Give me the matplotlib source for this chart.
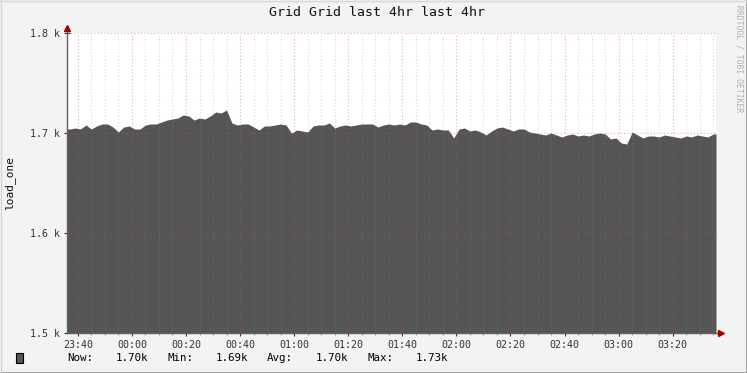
import matplotlib
matplotlib.use("Agg")
import matplotlib.pyplot as plt
import numpy as np

# load_one, sampled every 2 minutes starting 23:36
minutes = list(range(0, 240, 2))
load_one = [
    1704, 1705, 1704, 1708, 1704, 1707, 1709, 1709, 1706, 1701,
    1706, 1707, 1704, 1704, 1708, 1709, 1709, 1711, 1713, 1714,
    1715, 1718, 1717, 1713, 1715, 1714, 1717, 1721, 1720, 1723,
    1710, 1708, 1709, 1709, 1706, 1703, 1707, 1707, 1708, 1709,
    1708, 1700, 1703, 1702, 1701, 1707, 1708, 1708, 1710, 1705,
    1707, 1708, 1707, 1708, 1709, 1709, 1709, 1706, 1708, 1709,
    1708, 1709, 1708, 1711, 1711, 1709, 1708, 1703, 1704, 1703,
    1703, 1695, 1704, 1705, 1702, 1703, 1701, 1698, 1702, 1705,
    1706, 1704, 1702, 1704, 1704, 1701, 1700, 1699, 1698, 1700,
    1698, 1696, 1698, 1699, 1697, 1698, 1697, 1699, 1700, 1699,
    1694, 1695, 1690, 1689, 1701, 1698, 1695, 1697, 1697, 1696,
    1698, 1697, 1696, 1695, 1697, 1696, 1698, 1697, 1696, 1699,
]
tick_minutes = [4, 24, 44, 64, 84, 104, 124, 144, 164, 184, 204, 224]
tick_labels = ["23:40", "00:00", "00:20", "00:40", "01:00", "01:20",
               "01:40", "02:00", "02:20", "02:40", "03:00", "03:20"]
y_ticks = [1500, 1600, 1700, 1800]
y_labels = ["1.5 k", "1.6 k", "1.7 k", "1.8 k"]
legend_parts = [("Now:", "1.70k"), ("Min:", "1.69k"), ("Avg:", "1.70k"), ("Max:", "1.73k")]

W, H = 747, 373
mono = "DejaVu Sans Mono"
bg = "#f3f3f3"
area_col = "#555555"
minor_col = (0.55, 0.55, 0.55, 0.35)
major_col = (0.85, 0.3, 0.3, 0.45)
arrow_col = "#a00000"
axis_col = "#606060"

fig = plt.figure(figsize=(W / 100, H / 100), dpi=100, facecolor=bg)

# frame around the picture
fig.add_artist(plt.Line2D([0, 1], [0.5 / H, 0.5 / H], color="#9a9a9a", lw=2, transform=fig.transFigure))
fig.add_artist(plt.Line2D([1 - 0.5 / W, 1 - 0.5 / W], [0, 1], color="#9a9a9a", lw=2, transform=fig.transFigure))
fig.add_artist(plt.Line2D([0, 1], [1 - 0.5 / H, 1 - 0.5 / H], color="#d6d6d6", lw=1, transform=fig.transFigure))
fig.add_artist(plt.Line2D([0.5 / W, 0.5 / W], [0, 1], color="#d6d6d6", lw=1, transform=fig.transFigure))

left, right, top, bottom = 67, 716, 33, 333
ax = fig.add_axes([left / W, 1 - bottom / H, (right - left) / W, (bottom - top) / H])
ax.set_facecolor("white")

# samples drawn at the middle of each 2 minute step, held out to the edges
xs = np.array([0] + [m + 1 for m in minutes] + [240])
ys = np.array([load_one[0]] + load_one + [load_one[-1]])
ax.fill_between(xs, 1500, ys, color=area_col, lw=0, zorder=2)

ax.set_xlim(0, 240)
ax.set_ylim(1500, 1800)

# grid, drawn over the area like rrdtool does
for m in range(4, 240, 5):
    if (m - 4) % 20 == 0:
        continue
    ax.axvline(m, color=minor_col, lw=0.8, ls=(0, (1, 2)), zorder=3)
for m in tick_minutes:
    ax.axvline(m, color=major_col, lw=0.8, ls=(0, (1, 2)), zorder=3)
for v in y_ticks[1:]:
    ax.axhline(v, color=major_col, lw=0.8, ls=(0, (1, 2)), zorder=3, clip_on=False)

for s in ["top", "right"]:
    ax.spines[s].set_visible(False)
for s in ["left", "bottom"]:
    ax.spines[s].set_color(axis_col)
    ax.spines[s].set_linewidth(1)
    ax.spines[s].set_zorder(4)

ax.set_xticks(tick_minutes)
ax.set_xticklabels(tick_labels, fontfamily=mono, fontsize=7.2)
ax.set_xticks([m for m in range(4, 240, 5)], minor=True)
ax.set_yticks(y_ticks)
ax.set_yticklabels(y_labels, fontfamily=mono, fontsize=7.2)
ax.tick_params(axis="both", which="major", direction="inout", length=4, width=0.8,
               colors="#333333", pad=3)
ax.tick_params(axis="x", which="major", color=arrow_col)
ax.tick_params(axis="x", which="minor", direction="inout", length=3, width=0.8, color="#999999")

# axis arrows
ax.plot([0, 0], [1, 1.018], transform=ax.transAxes, color=axis_col, lw=1, clip_on=False, zorder=4)
ax.plot([0], [1.018], transform=ax.transAxes, marker="^", color=arrow_col, ms=4, clip_on=False, zorder=5)
ax.plot([1, 1.007], [0, 0], transform=ax.transAxes, color=axis_col, lw=1, clip_on=False, zorder=4)
ax.plot([1.007], [0], transform=ax.transAxes, marker=">", color=arrow_col, ms=4, clip_on=False, zorder=5)

fig.text(377 / W, 1 - 13 / H, "Grid Grid last 4hr last 4hr", fontfamily=mono, fontsize=9.5,
         ha="center", va="center", color="#111111")
fig.text(10 / W, 1 - 183 / H, "load_one", fontfamily=mono, fontsize=8, rotation=90,
         ha="center", va="center", color="#111111")
fig.text(739 / W, 1 - 5 / H, "RRDTOOL / TOBI OETIKER", fontfamily=mono, fontsize=5.8,
         rotation=270, ha="center", va="top", color="#b0b0b0")

# legend line
fig.add_artist(plt.Rectangle((15.5 / W, 1 - 363 / H), 7 / W, 10 / H, facecolor=area_col,
                             edgecolor="black", lw=0.8, transform=fig.transFigure))
x0 = 67
for label, val in legend_parts:
    fig.text(x0 / W, 1 - 358 / H, label, fontfamily=mono, fontsize=7.8, ha="left", va="center")
    fig.text((x0 + 49) / W, 1 - 358 / H, val, fontfamily=mono, fontsize=7.8, ha="left", va="center")
    x0 += 100

fig.savefig("out.png", dpi=100, facecolor=bg)
